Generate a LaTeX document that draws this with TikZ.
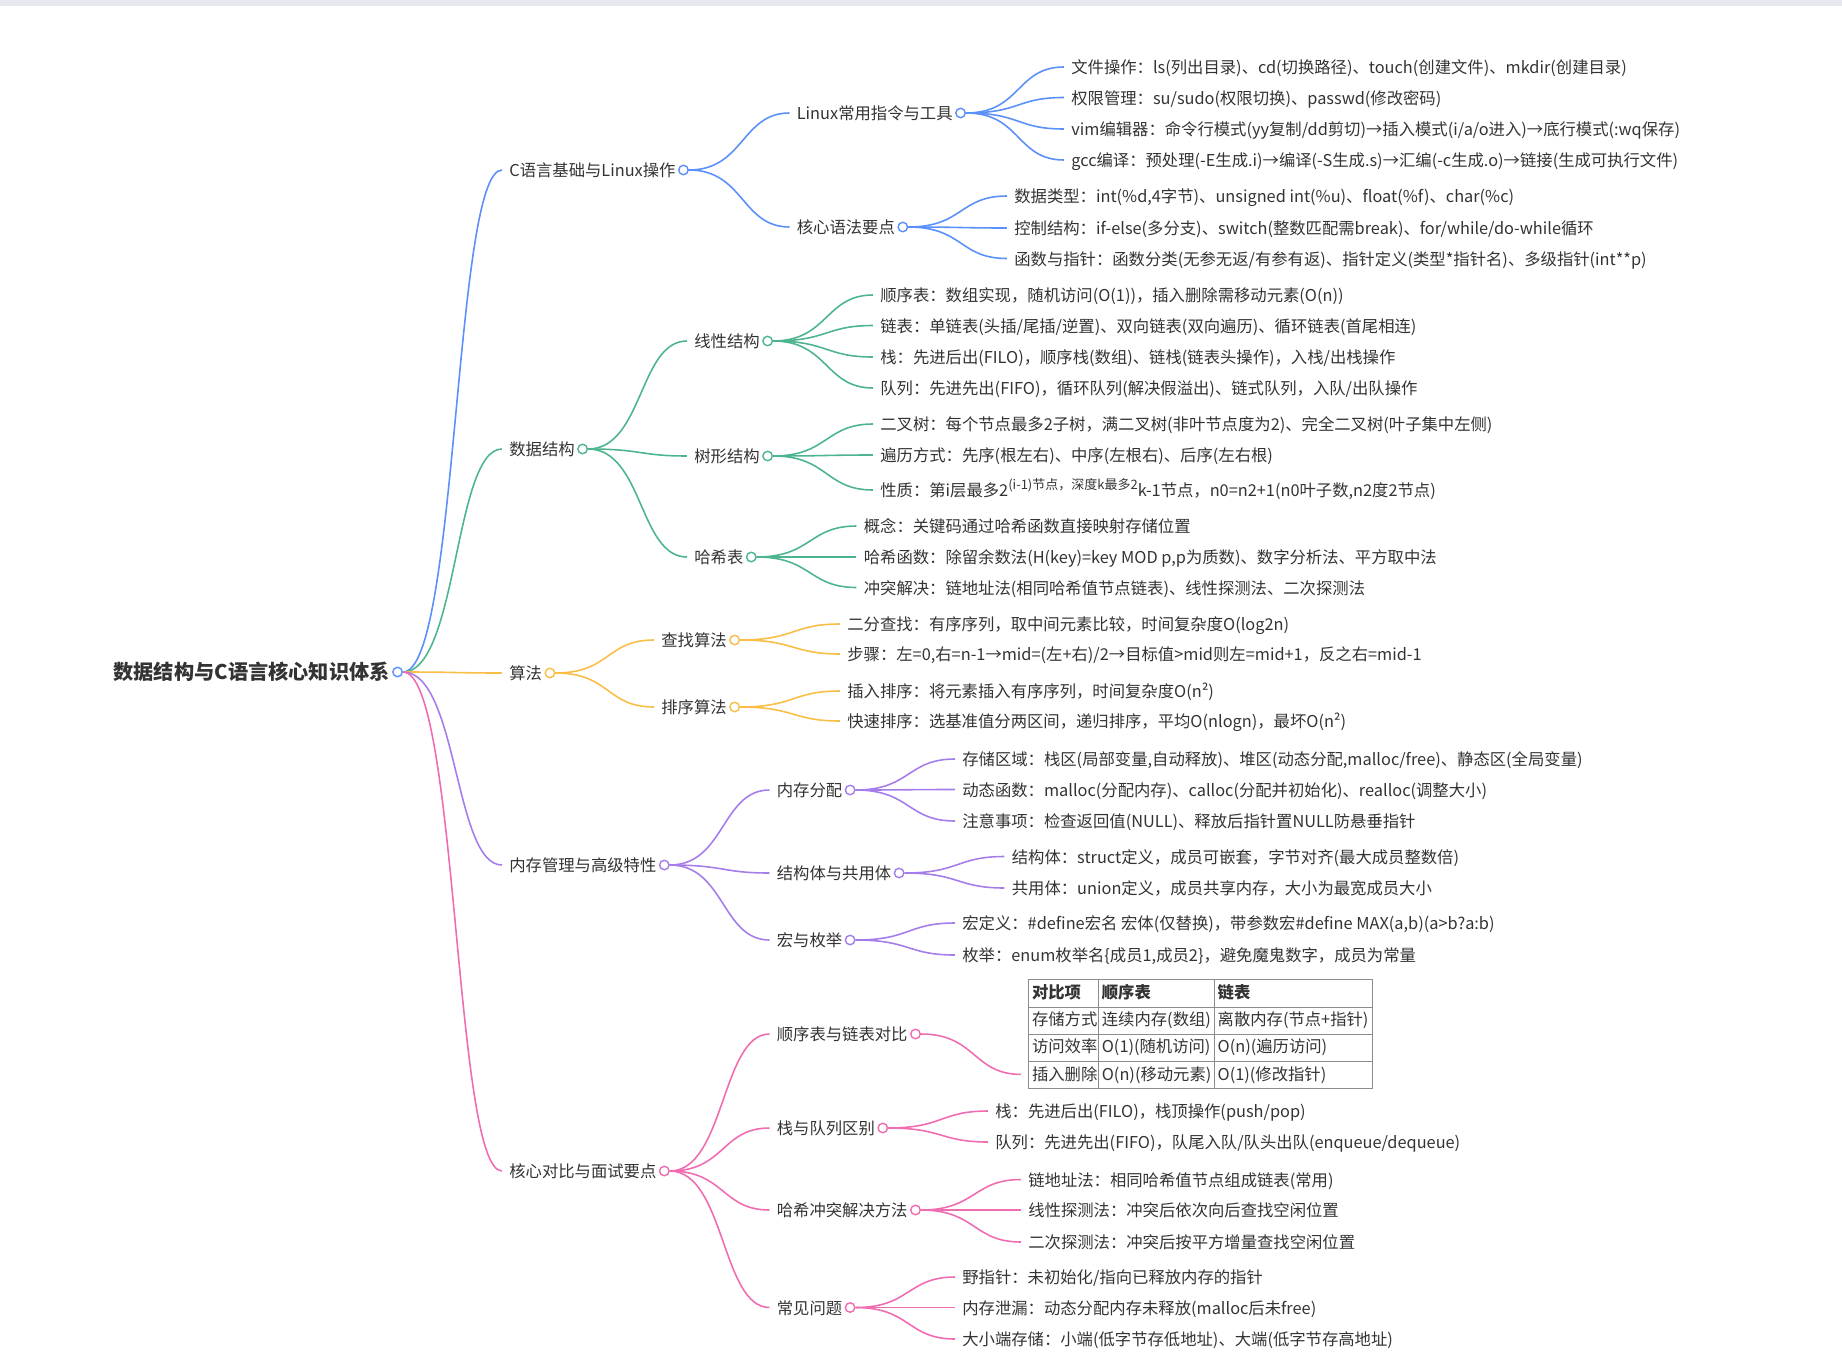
\documentclass[tikz,border=0pt]{standalone}
\usepackage{fontspec}
\setmainfont{Noto Sans CJK SC}
\usepackage{colortbl}
\usetikzlibrary{positioning}

\definecolor{inkc}{HTML}{333333}
\definecolor{brblue}{HTML}{5B8FF9}
\definecolor{brgreen}{HTML}{4CB58E}
\definecolor{brorange}{HTML}{F9BE45}
\definecolor{brpurple}{HTML}{A47DEB}
\definecolor{brpink}{HTML}{F06CB0}
\definecolor{tabrule}{HTML}{8C8C8C}
\definecolor{barfill}{HTML}{E6E9EE}

\newcommand{\upsmall}[1]{\raisebox{0.42em}{\fontsize{7.4}{8}\selectfont #1}}

\begin{document}
\begin{tikzpicture}[x=0.02cm, y=-0.02cm,
    every node/.style={font=\fontsize{9.3}{11}\selectfont, text=inkc},
    topic/.style={anchor=west, inner xsep=0pt, inner ysep=1pt,
                  text height=0.9em, text depth=0.15em},
    leaf/.style={topic},
    rootnode/.style={anchor=east, inner sep=0pt,
                  font=\fontsize{11.5}{13}\selectfont\bfseries},
    knob/.style={circle, draw=#1, fill=white, line width=0.8pt,
                  inner sep=0pt, minimum size=5.4pt},
    link/.style={draw=#1, line width=0.9pt, shorten >=4pt,
                  to path={.. controls +(55,0) and +(-55,0) .. (\tikztotarget)}},
  ]

  \useasboundingbox (0,0) rectangle (1842,1372);
  \fill[barfill] (0,0) rectangle (1842,6);

  % root
  \node[rootnode] (kb) at (390,672) {数据结构与C语言核心知识体系};
  \node[knob=brblue, right=1.2pt of kb] (kbk) {};

  % first level
  \node[topic] (clin) at (509,170) {C语言基础与Linux操作};
  \node[knob=brblue, right=1.2pt of clin] (clink) {};
  \node[topic] (ds) at (509,449) {数据结构};
  \node[knob=brgreen, right=1.2pt of ds] (dsk) {};
  \node[topic] (alg) at (509,673) {算法};
  \node[knob=brorange, right=1.2pt of alg] (algk) {};
  \node[topic] (mem) at (509,865) {内存管理与高级特性};
  \node[knob=brpurple, right=1.2pt of mem] (memk) {};
  \node[topic] (core) at (509,1171) {核心对比与面试要点};
  \node[knob=brpink, right=1.2pt of core] (corek) {};

  % C and Linux
  \node[topic] (lx) at (796.5,113) {Linux常用指令与工具};
  \node[knob=brblue, right=1.2pt of lx] (lxk) {};
  \node[leaf] (lx1) at (1071,67) {文件操作：ls(列出目录)、cd(切换路径)、touch(创建文件)、mkdir(创建目录)};
  \node[leaf] (lx2) at (1071,97.5) {权限管理：su/sudo(权限切换)、passwd(修改密码)};
  \node[leaf] (lx3) at (1071,129) {vim编辑器：命令行模式(yy复制/dd剪切)→插入模式(i/a/o进入)→底行模式(:wq保存)};
  \node[leaf] (lx4) at (1071,160) {gcc编译：预处理(-E生成.i)→编译(-S生成.s)→汇编(-c生成.o)→链接(生成可执行文件)};

  \node[topic] (syn) at (796.5,227) {核心语法要点};
  \node[knob=brblue, right=1.2pt of syn] (synk) {};
  \node[leaf] (syn1) at (1014,196) {数据类型：int(\%d,4字节)、unsigned int(\%u)、float(\%f)、char(\%c)};
  \node[leaf] (syn2) at (1014,228) {控制结构：if-else(多分支)、switch(整数匹配需break)、for/while/do-while循环};
  \node[leaf] (syn3) at (1014,258.5) {函数与指针：函数分类(无参无返/有参有返)、指针定义(类型*指针名)、多级指针(int**p)};

  % data structures
  \node[topic] (lin) at (694,341) {线性结构};
  \node[knob=brgreen, right=1.2pt of lin] (link) {};
  \node[leaf] (lin1) at (880,295) {顺序表：数组实现，随机访问(O(1))，插入删除需移动元素(O(n))};
  \node[leaf] (lin2) at (880,325.5) {链表：单链表(头插/尾插/逆置)、双向链表(双向遍历)、循环链表(首尾相连)};
  \node[leaf] (lin3) at (880,357) {栈：先进后出(FILO)，顺序栈(数组)、链栈(链表头操作)，入栈/出栈操作};
  \node[leaf] (lin4) at (880,388) {队列：先进先出(FIFO)，循环队列(解决假溢出)、链式队列，入队/出队操作};

  \node[topic] (tree) at (694,456) {树形结构};
  \node[knob=brgreen, right=1.2pt of tree] (treek) {};
  \node[leaf] (tree1) at (880,424) {二叉树：每个节点最多2子树，满二叉树(非叶节点度为2)、完全二叉树(叶子集中左侧)};
  \node[leaf] (tree2) at (880,455) {遍历方式：先序(根左右)、中序(左根右)、后序(左右根)};
  \node[leaf] (tree3) at (880,490) {性质：第i层最多2\upsmall{(i-1)节点，深度k最多2}k-1节点，n0=n2+1(n0叶子数,n2度2节点)};

  \node[topic] (hash) at (694,557) {哈希表};
  \node[knob=brgreen, right=1.2pt of hash] (hashk) {};
  \node[leaf] (hash1) at (863.5,526) {概念：关键码通过哈希函数直接映射存储位置};
  \node[leaf] (hash2) at (863.5,557) {哈希函数：除留余数法(H(key)=key MOD p,p为质数)、数字分析法、平方取中法};
  \node[leaf] (hash3) at (863.5,587.5) {冲突解决：链地址法(相同哈希值节点链表)、线性探测法、二次探测法};

  % algorithms
  \node[topic] (srch) at (661,640) {查找算法};
  \node[knob=brorange, right=1.2pt of srch] (srchk) {};
  \node[leaf] (srch1) at (847,624) {二分查找：有序序列，取中间元素比较，时间复杂度O(log2n)};
  \node[leaf] (srch2) at (847,654) {步骤：左=0,右=n-1→mid=(左+右)/2→目标值>mid则左=mid+1，反之右=mid-1};

  \node[topic] (sort) at (661,707) {排序算法};
  \node[knob=brorange, right=1.2pt of sort] (sortk) {};
  \node[leaf] (sort1) at (847,691) {插入排序：将元素插入有序序列，时间复杂度O(n²)};
  \node[leaf] (sort2) at (847,721) {快速排序：选基准值分两区间，递归排序，平均O(nlogn)，最坏O(n²)};

  % memory
  \node[topic] (malc) at (776.5,790) {内存分配};
  \node[knob=brpurple, right=1.2pt of malc] (malck) {};
  \node[leaf] (malc1) at (962,759) {存储区域：栈区(局部变量,自动释放)、堆区(动态分配,malloc/free)、静态区(全局变量)};
  \node[leaf] (malc2) at (962,789.5) {动态函数：malloc(分配内存)、calloc(分配并初始化)、realloc(调整大小)};
  \node[leaf] (malc3) at (962,821) {注意事项：检查返回值(NULL)、释放后指针置NULL防悬垂指针};

  \node[topic] (stru) at (776.5,873) {结构体与共用体};
  \node[knob=brpurple, right=1.2pt of stru] (struk) {};
  \node[leaf] (stru1) at (1011.5,856.5) {结构体：struct定义，成员可嵌套，字节对齐(最大成员整数倍)};
  \node[leaf] (stru2) at (1011.5,888) {共用体：union定义，成员共享内存，大小为最宽成员大小};

  \node[topic] (macr) at (776.5,940) {宏与枚举};
  \node[knob=brpurple, right=1.2pt of macr] (macrk) {};
  \node[leaf] (macr1) at (962,923) {宏定义：\#define宏名 宏体(仅替换)，带参数宏\#define MAX(a,b)(a>b?a:b)};
  \node[leaf] (macr2) at (962,955) {枚举：enum枚举名\{成员1,成员2\}，避免魔鬼数字，成员为常量};

  % comparison and interview points
  \node[topic] (cmp) at (776.5,1034) {顺序表与链表对比};
  \node[knob=brpink, right=1.2pt of cmp] (cmpk) {};
  \node[anchor=north west, inner sep=0pt] (cmptab) at (1028,979) {%
    \arrayrulecolor{tabrule}\setlength{\arrayrulewidth}{0.6pt}%
    \setlength{\tabcolsep}{1.5pt}\renewcommand{\arraystretch}{1.35}%
    \begin{tabular}{|p{1.27cm}|p{2.19cm}|p{3.03cm}|}\hline
      \textbf{对比项} & \textbf{顺序表} & \textbf{链表}\\\hline
      存储方式 & 连续内存(数组) & 离散内存(节点+指针)\\\hline
      访问效率 & O(1)(随机访问) & O(n)(遍历访问)\\\hline
      插入删除 & O(n)(移动元素) & O(1)(修改指针)\\\hline
    \end{tabular}};
  \coordinate (cmptabin) at ([yshift=8.5pt]cmptab.south west);

  \node[topic] (stkq) at (776.5,1128) {栈与队列区别};
  \node[knob=brpink, right=1.2pt of stkq] (stkqk) {};
  \node[leaf] (stkq1) at (995,1111) {栈：先进后出(FILO)，栈顶操作(push/pop)};
  \node[leaf] (stkq2) at (995,1142) {队列：先进先出(FIFO)，队尾入队/队头出队(enqueue/dequeue)};

  \node[topic] (hres) at (776.5,1210) {哈希冲突解决方法};
  \node[knob=brpink, right=1.2pt of hres] (hresk) {};
  \node[leaf] (hres1) at (1028,1179.5) {链地址法：相同哈希值节点组成链表(常用)};
  \node[leaf] (hres2) at (1028,1210) {线性探测法：冲突后依次向后查找空闲位置};
  \node[leaf] (hres3) at (1028,1242) {二次探测法：冲突后按平方增量查找空闲位置};

  \node[topic] (isue) at (776.5,1307.5) {常见问题};
  \node[knob=brpink, right=1.2pt of isue] (isuek) {};
  \node[leaf] (isue1) at (962,1277) {野指针：未初始化/指向已释放内存的指针};
  \node[leaf] (isue2) at (962,1307.5) {内存泄漏：动态分配内存未释放(malloc后未free)};
  \node[leaf] (isue3) at (962,1339) {大小端存储：小端(低字节存低地址)、大端(低字节存高地址)};

  % connectors
  \draw[link=brblue] (kbk.east) to (clin.west);
  \draw[link=brgreen] (kbk.east) to (ds.west);
  \draw[link=brorange] (kbk.east) to (alg.west);
  \draw[link=brpurple] (kbk.east) to (mem.west);
  \draw[link=brpink] (kbk.east) to (core.west);

  \draw[link=brblue] (clink.east) to (lx.west);
  \draw[link=brblue] (clink.east) to (syn.west);
  \draw[link=brblue] (lxk.east) to (lx1.west);
  \draw[link=brblue] (lxk.east) to (lx2.west);
  \draw[link=brblue] (lxk.east) to (lx3.west);
  \draw[link=brblue] (lxk.east) to (lx4.west);
  \draw[link=brblue] (synk.east) to (syn1.west);
  \draw[link=brblue] (synk.east) to (syn2.west);
  \draw[link=brblue] (synk.east) to (syn3.west);

  \draw[link=brgreen] (dsk.east) to (lin.west);
  \draw[link=brgreen] (dsk.east) to (tree.west);
  \draw[link=brgreen] (dsk.east) to (hash.west);
  \draw[link=brgreen] (link.east) to (lin1.west);
  \draw[link=brgreen] (link.east) to (lin2.west);
  \draw[link=brgreen] (link.east) to (lin3.west);
  \draw[link=brgreen] (link.east) to (lin4.west);
  \draw[link=brgreen] (treek.east) to (tree1.west);
  \draw[link=brgreen] (treek.east) to (tree2.west);
  \draw[link=brgreen] (treek.east) to (tree3.west);
  \draw[link=brgreen] (hashk.east) to (hash1.west);
  \draw[link=brgreen] (hashk.east) to (hash2.west);
  \draw[link=brgreen] (hashk.east) to (hash3.west);

  \draw[link=brorange] (algk.east) to (srch.west);
  \draw[link=brorange] (algk.east) to (sort.west);
  \draw[link=brorange] (srchk.east) to (srch1.west);
  \draw[link=brorange] (srchk.east) to (srch2.west);
  \draw[link=brorange] (sortk.east) to (sort1.west);
  \draw[link=brorange] (sortk.east) to (sort2.west);

  \draw[link=brpurple] (memk.east) to (malc.west);
  \draw[link=brpurple] (memk.east) to (stru.west);
  \draw[link=brpurple] (memk.east) to (macr.west);
  \draw[link=brpurple] (malck.east) to (malc1.west);
  \draw[link=brpurple] (malck.east) to (malc2.west);
  \draw[link=brpurple] (malck.east) to (malc3.west);
  \draw[link=brpurple] (struk.east) to (stru1.west);
  \draw[link=brpurple] (struk.east) to (stru2.west);
  \draw[link=brpurple] (macrk.east) to (macr1.west);
  \draw[link=brpurple] (macrk.east) to (macr2.west);

  \draw[link=brpink] (corek.east) to (cmp.west);
  \draw[link=brpink] (corek.east) to (stkq.west);
  \draw[link=brpink] (corek.east) to (hres.west);
  \draw[link=brpink] (corek.east) to (isue.west);
  \draw[link=brpink] (cmpk.east) to (cmptabin);
  \draw[link=brpink] (stkqk.east) to (stkq1.west);
  \draw[link=brpink] (stkqk.east) to (stkq2.west);
  \draw[link=brpink] (hresk.east) to (hres1.west);
  \draw[link=brpink] (hresk.east) to (hres2.west);
  \draw[link=brpink] (hresk.east) to (hres3.west);
  \draw[link=brpink] (isuek.east) to (isue1.west);
  \draw[link=brpink] (isuek.east) to (isue2.west);
  \draw[link=brpink] (isuek.east) to (isue3.west);

\end{tikzpicture}
\end{document}
